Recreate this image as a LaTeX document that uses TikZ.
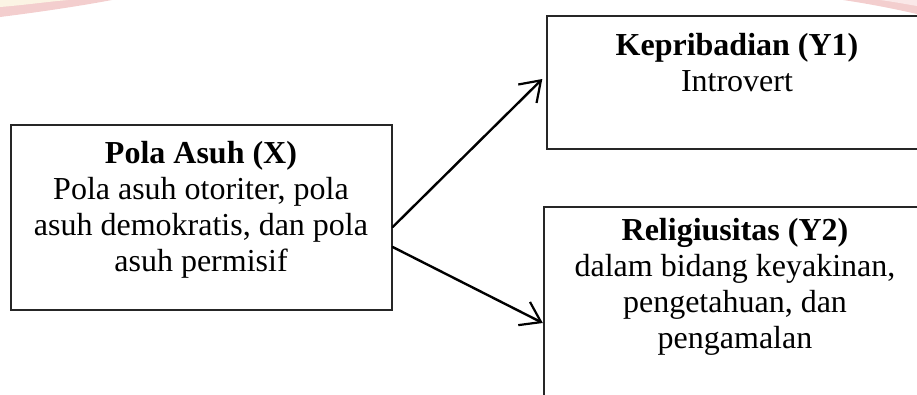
\documentclass[tikz,border=0pt]{standalone}
\usepackage{fontspec}
\setmainfont{Liberation Serif}
\usetikzlibrary{arrows.meta}
\definecolor{wmpink}{RGB}{243,206,206}
\definecolor{wmcream}{RGB}{251,244,228}
\definecolor{wmlight}{RGB}{250,232,232}
\begin{document}
\begin{tikzpicture}[x=1pt,y=-1pt,
  box/.style={draw=black!85, line width=1.4pt, inner sep=0pt},
  txt/.style={inner sep=0pt, anchor=north, align=center, font=\fontsize{32}{36}\selectfont},
  arr/.style={line width=2.4pt, line cap=round, -{Straight Barb[length=19pt,width=26pt,line width=2.2pt]}}]
\useasboundingbox (0,0) rectangle (917,394);
\clip (0,0) rectangle (917,394);
% watermark fragments
\fill[wmpink] (0,17) .. controls (40,12) and (80,6) .. (112,0) -- (0,0) -- cycle;
\fill[wmcream] (0,7) .. controls (25,5) and (45,2) .. (68,0) -- (0,0) -- cycle;
\fill[wmpink] (843,0) .. controls (870,4) and (895,9) .. (917,14) -- (917,0) -- cycle;
\fill[wmlight] (880,0) .. controls (895,2) and (905,4) .. (917,6) -- (917,0) -- cycle;
% boxes
\node[box, minimum width=381pt, minimum height=185pt] (x) at (201.5,217.5) {};
\node[box, minimum width=380pt, minimum height=133pt] (y1) at (737,82.5) {};
\node[box, minimum width=383pt, minimum height=203pt] (y2) at (735.5,308.5) {};
% texts
\node[txt] (tx) at (201,137.8) {\strut\textbf{Pola Asuh (X)}\\Pola asuh otoriter, pola\\asuh demokratis, dan pola\\asuh permisif};
\node[txt] (ty1) at (737,30.5) {\strut\textbf{Kepribadian (Y1)}\\Introvert};
\node[txt] (ty2) at (735,214.8) {\strut\textbf{Religiusitas (Y2)}\\dalam bidang keyakinan,\\pengetahuan, dan\\pengamalan};
% arrows
\draw[arr] ([yshift=-9.5pt]x.east) -- ([xshift=-4pt,yshift=3.5pt]y1.west);
\draw[arr] ([yshift=-29.5pt]x.east) -- ([xshift=-0.5pt,yshift=-14.5pt]y2.west);
\end{tikzpicture}
\end{document}
